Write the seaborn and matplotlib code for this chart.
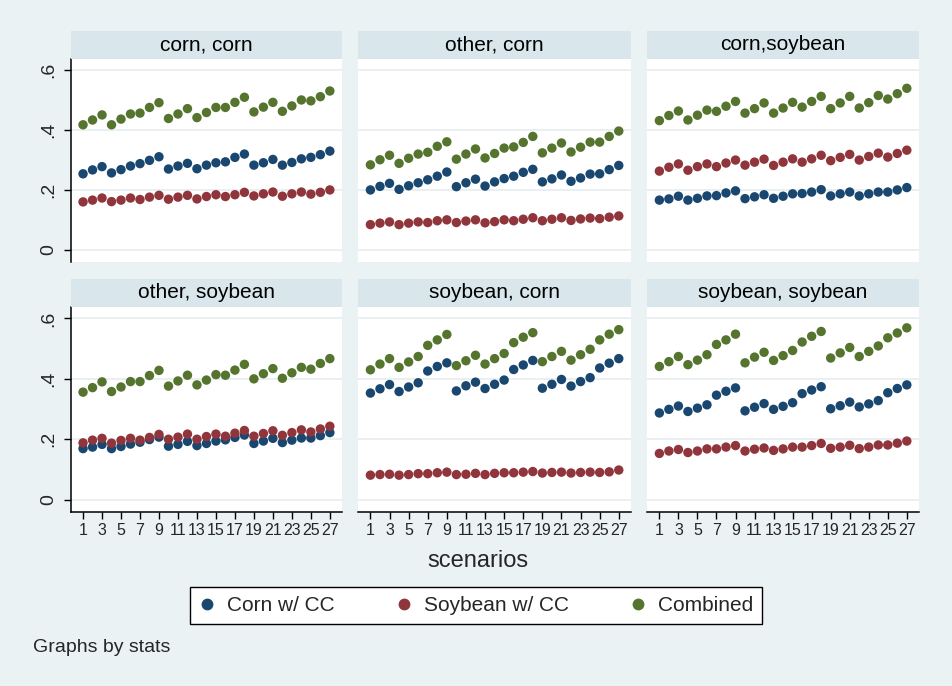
import numpy as np
import pandas as pd
import matplotlib
matplotlib.use("Agg")
import matplotlib.pyplot as plt
from matplotlib.patches import Rectangle
from matplotlib.lines import Line2D
import seaborn as sns

# ---------------- data ----------------
panels = ["corn, corn", "other, corn", "corn,soybean",
          "other, soybean", "soybean, corn", "soybean, soybean"]
scenarios = list(range(1, 28))
series_names = ["Corn w/ CC", "Soybean w/ CC", "Combined"]
xtick_values = [1, 3, 5, 7, 9, 11, 13, 15, 17, 19, 21, 23, 25, 27]
ytick_values = [0, 0.2, 0.4, 0.6]
ytick_labels = ["0", ".2", ".4", ".6"]

# corn, corn
cc_corn = [.254, .267, .278, .257, .268, .280, .288, .299, .311, .270, .280, .289, .271, .283,
           .291, .294, .309, .320, .283, .291, .302, .283, .292, .304, .309, .318, .330]
cc_soy = [.160, .166, .173, .161, .166, .173, .168, .176, .182, .169, .176, .182, .170, .178,
          .184, .178, .184, .192, .180, .187, .193, .179, .187, .193, .186, .192, .200]
cc_comb = [.418, .434, .451, .418, .437, .454, .457, .476, .492, .439, .454, .472, .442, .459,
           .476, .476, .493, .510, .461, .477, .493, .463, .481, .501, .498, .512, .531]
# other, corn
oc_corn = [.200, .212, .222, .202, .214, .224, .234, .246, .260, .211, .224, .236, .213, .227,
           .238, .246, .259, .269, .227, .237, .250, .229, .240, .253, .254, .268, .282]
oc_soy = [.084, .089, .093, .084, .089, .093, .091, .097, .100, .091, .096, .100, .090, .094,
          .100, .097, .102, .107, .097, .102, .107, .098, .103, .106, .104, .109, .113]
oc_comb = [.284, .301, .316, .289, .306, .320, .326, .346, .361, .303, .320, .337, .307, .322,
           .340, .344, .359, .379, .324, .340, .357, .327, .343, .360, .360, .379, .397]
# corn,soybean
cs_corn = [.166, .170, .179, .166, .172, .180, .181, .190, .197, .171, .177, .184, .172, .179,
           .187, .188, .193, .201, .180, .187, .193, .180, .187, .193, .193, .200, .208]
cs_soy = [.263, .276, .287, .266, .278, .287, .278, .290, .300, .283, .293, .303, .282, .293,
          .304, .293, .304, .316, .298, .309, .319, .300, .312, .323, .310, .322, .333]
cs_comb = [.432, .449, .464, .434, .450, .467, .463, .480, .496, .457, .472, .491, .457, .474,
           .493, .477, .496, .513, .472, .491, .513, .474, .492, .516, .504, .522, .540]
# other, soybean
os_corn = [.169, .174, .183, .169, .176, .184, .190, .199, .207, .177, .183, .193, .179, .186,
           .194, .198, .206, .214, .186, .194, .203, .189, .197, .204, .204, .212, .222]
os_soy = [.188, .197, .203, .187, .196, .203, .197, .206, .216, .200, .207, .217, .200, .209,
          .217, .210, .220, .229, .210, .219, .228, .213, .222, .231, .224, .234, .243]
os_comb = [.356, .371, .390, .358, .373, .391, .391, .411, .428, .376, .393, .412, .380, .396,
           .414, .412, .429, .448, .400, .417, .434, .402, .420, .438, .432, .451, .467]
# soybean, corn
sc_corn = [.353, .367, .381, .358, .373, .387, .426, .441, .453, .360, .377, .389, .368, .382,
           .396, .431, .446, .461, .369, .382, .398, .376, .391, .404, .436, .452, .467]
sc_soy = [.081, .083, .084, .081, .083, .086, .086, .089, .091, .083, .084, .087, .083, .087,
          .089, .089, .091, .093, .088, .090, .091, .088, .090, .091, .090, .092, .098]
sc_comb = [.430, .449, .467, .438, .456, .474, .511, .529, .547, .444, .460, .478, .449, .467,
           .484, .520, .538, .553, .457, .474, .491, .462, .480, .498, .529, .548, .563]
# soybean, soybean
ss_corn = [.287, .299, .310, .292, .303, .314, .346, .359, .370, .294, .306, .318, .299, .309,
           .321, .351, .363, .374, .301, .311, .323, .307, .317, .328, .354, .368, .380]
ss_soy = [.153, .161, .166, .156, .161, .168, .168, .174, .179, .161, .167, .171, .163, .168,
          .174, .174, .179, .186, .170, .174, .180, .169, .174, .181, .181, .187, .194]
ss_comb = [.441, .457, .474, .447, .462, .480, .514, .529, .548, .453, .472, .488, .461, .477,
           .494, .522, .541, .557, .469, .486, .504, .474, .491, .509, .536, .552, .569]

panel_series = {
    "corn, corn": (cc_corn, cc_soy, cc_comb),
    "other, corn": (oc_corn, oc_soy, oc_comb),
    "corn,soybean": (cs_corn, cs_soy, cs_comb),
    "other, soybean": (os_corn, os_soy, os_comb),
    "soybean, corn": (sc_corn, sc_soy, sc_comb),
    "soybean, soybean": (ss_corn, ss_soy, ss_comb),
}

rows = []
for p in panels:
    for name, vals in zip(series_names, panel_series[p]):
        for s, v in zip(scenarios, vals):
            rows.append({"stats": p, "series": name, "scenario": s, "value": v})
df = pd.DataFrame(rows)

# ---------------- style ----------------
BG = "#EAF2F3"
STRIP = "#D9E6EB"
GRID = "#E6EEF0"
palette = {"Corn w/ CC": "#1A476F", "Soybean w/ CC": "#90353B", "Combined": "#55752F"}

sns.set_theme(style="white")
plt.rcParams['font.family'] = ['Liberation Sans', 'DejaVu Sans']

W, H = 953.0, 686.0
fig = plt.figure(figsize=(W / 100, H / 100), dpi=100, facecolor=BG)

col_x = [(70.7, 342.0), (358.0, 631.0), (647.0, 919.0)]
row_y = [(59.0, 262.0), (307.0, 512.0)]   # plot top, bottom (px)
strip_h = 28.0

def fx(px):
    return px / W

def fy(py):
    return 1 - py / H

for i, p in enumerate(panels):
    r, c = divmod(i, 3)
    x0, x1 = col_x[c]
    t, b = row_y[r]
    ax = fig.add_axes([fx(x0), fy(b), fx(x1) - fx(x0), fy(t) - fy(b)])
    ax.set_facecolor("white")
    # strip title
    fig.patches.append(Rectangle((fx(x0), fy(t)), fx(x1) - fx(x0), strip_h / H,
                                 transform=fig.transFigure, facecolor=STRIP,
                                 edgecolor="none", zorder=0))
    fig.text((fx(x0) + fx(x1)) / 2, fy(t - strip_h / 2), p, ha="center", va="center",
             fontsize=15, color="black")
    for yv in ytick_values:
        ax.axhline(yv, color=GRID, lw=1.2, zorder=0)
    sub = df[df["stats"] == p]
    sns.scatterplot(data=sub, x="scenario", y="value", hue="series", hue_order=series_names,
                    palette=palette, s=46, linewidth=0, legend=False, ax=ax, zorder=3)
    ax.set_xlabel("")
    ax.set_ylabel("")
    for sp in ["top", "right"]:
        ax.spines[sp].set_visible(False)
    ax.spines["left"].set_visible(c == 0)
    ax.spines["bottom"].set_visible(r == 1)
    for sp in ["left", "bottom"]:
        ax.spines[sp].set_color("black")
        ax.spines[sp].set_linewidth(1.1)
    ax.set_yticks(ytick_values)
    if c == 0:
        ax.set_yticklabels(ytick_labels, rotation=90, va="center", fontsize=14)
        ax.tick_params(axis="y", direction="out", length=5, width=1, color="black",
                       pad=5, left=True, labelleft=True)
    else:
        ax.tick_params(axis="y", left=False, labelleft=False)
    ax.set_xticks(xtick_values)
    if r == 1:
        ax.set_xticklabels([str(v) for v in xtick_values], fontsize=11.5)
        ax.tick_params(axis="x", direction="out", length=5, width=1, color="black",
                       pad=3, bottom=True, labelbottom=True)
    else:
        ax.tick_params(axis="x", bottom=False, labelbottom=False)
    ax.grid(False)
    ax.set_xlim(-0.3, 28.28)
    ax.set_ylim(-0.041, 0.638)

fig.text(fx(478), fy(561), "scenarios", ha="center", va="center", fontsize=17)

handles = [Line2D([], [], linestyle="none", marker="o", markersize=8.5,
                  markerfacecolor=palette[n], markeredgewidth=0) for n in series_names]
leg = fig.legend(handles, series_names, loc="center", ncol=3,
                 bbox_to_anchor=(fx(476), fy(605.5)), fontsize=15, frameon=True,
                 fancybox=False, edgecolor="black", facecolor="white",
                 handlelength=0.8, handletextpad=0.56, columnspacing=2.9,
                 borderpad=0.45)
leg.get_frame().set_linewidth(1.0)
leg.get_frame().set_alpha(1)

fig.text(fx(33), fy(648), "Graphs by stats", ha="left", va="center", fontsize=14)

fig.savefig("out.png", dpi=100, facecolor=BG)
